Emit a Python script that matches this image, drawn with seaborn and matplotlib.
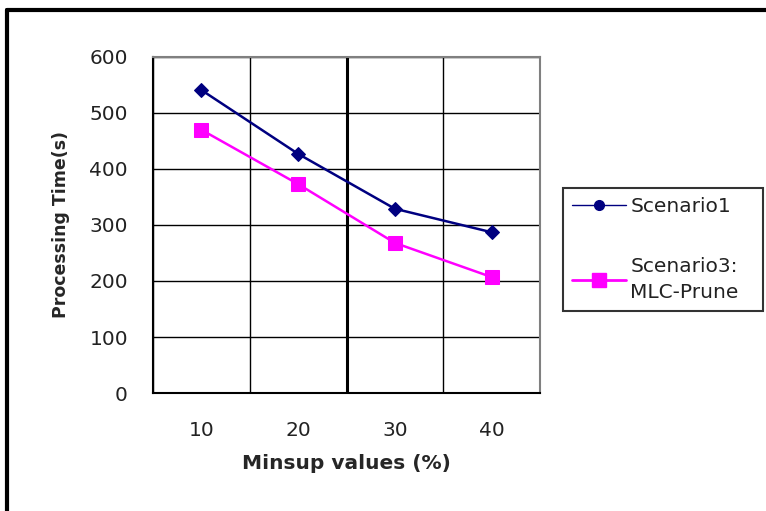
import pandas as pd
import numpy as np
import matplotlib.pyplot as plt
import seaborn as sns
from matplotlib.lines import Line2D

# data
minsup = ["10", "20", "30", "40"]
scenario1 = [541, 427, 329, 287]
scenario3 = [470, 373, 268, 207]

df = pd.DataFrame({
    "Minsup": minsup * 2,
    "Time": scenario1 + scenario3,
    "Series": ["Scenario1"] * 4 + ["Scenario3:\nMLC-Prune"] * 4,
})

sns.set_style("white")
plt.rcParams["font.family"] = ["DejaVu Sans"]

fig = plt.figure(figsize=(7.66, 5.11), dpi=100)
ax = fig.add_axes([0.1997, 0.2309, 0.7050 - 0.1997, 0.8885 - 0.2309])

palette = {"Scenario1": "#000080", "Scenario3:\nMLC-Prune": "#FF00FF"}
markers = {"Scenario1": "D", "Scenario3:\nMLC-Prune": "s"}
sizes = {"Scenario1": 7, "Scenario3:\nMLC-Prune": 10}

for name, grp in df.groupby("Series", sort=False):
    sns.lineplot(data=grp, x="Minsup", y="Time", ax=ax, color=palette[name],
                 marker=markers[name], markersize=sizes[name],
                 markeredgecolor=palette[name], linewidth=1.8, legend=False)

ax.set_xlim(-0.5, 3.5)
ax.set_ylim(0, 600)
ax.set_yticks(range(0, 601, 100))
ax.set_xticks(range(4))
ax.set_xticks(np.arange(-0.5, 4, 1), minor=True)
ax.tick_params(axis="x", which="major", length=0, labelsize=14.5, pad=20)
ax.tick_params(axis="x", which="minor", length=7, width=1, color="black", direction="out")
ax.tick_params(axis="y", length=8, width=1, color="black", direction="out", labelsize=14.5, pad=10)
for t in ax.get_xticklabels() + ax.get_yticklabels():
    t.set_color("#222222")

ax.grid(False)
ax.grid(True, axis="y", which="major", color="black", linewidth=1)
ax.grid(True, axis="x", which="minor", color="black", linewidth=1)
ax.axvline(1.5, color="black", linewidth=2.2, zorder=0.5)

for s in ["top", "right"]:
    ax.spines[s].set_color("#808080")
    ax.spines[s].set_linewidth(1.5)
for s in ["left", "bottom"]:
    ax.spines[s].set_color("black")
    ax.spines[s].set_linewidth(1.5)

ax.set_xlabel("Minsup values (%)", fontsize=14.5, fontweight="bold", labelpad=10)
ax.set_ylabel("Processing Time(s)", fontsize=12.5, fontweight="bold", labelpad=14)

handles = [
    Line2D([], [], color="#000080", marker="o", markersize=7, linewidth=1),
    Line2D([], [], color="#FF00FF", marker="s", markersize=10, linewidth=2),
]
leg = fig.legend(handles, ["Scenario1", "Scenario3:\nMLC-Prune"], loc="upper left",
                 bbox_to_anchor=(0.735, 0.393, 0.261, 0.24), mode="expand",
                 frameon=True, fancybox=False, edgecolor="black", fontsize=14.5,
                 labelspacing=2.05, handlelength=2.7, handletextpad=0.2,
                 borderpad=0.45, borderaxespad=0)
leg.get_frame().set_linewidth(1.5)
for t in leg.get_texts():
    t.set_linespacing(1.45)
    t.set_color("#222222")

# outer frame (left and top edges)
fig.add_artist(Line2D([0.009, 0.009], [0, 0.98], transform=fig.transFigure, color="black", linewidth=3))
fig.add_artist(Line2D([0.009, 1.0], [0.98, 0.98], transform=fig.transFigure, color="black", linewidth=3))

fig.savefig("out.png", dpi=100, facecolor="white")
